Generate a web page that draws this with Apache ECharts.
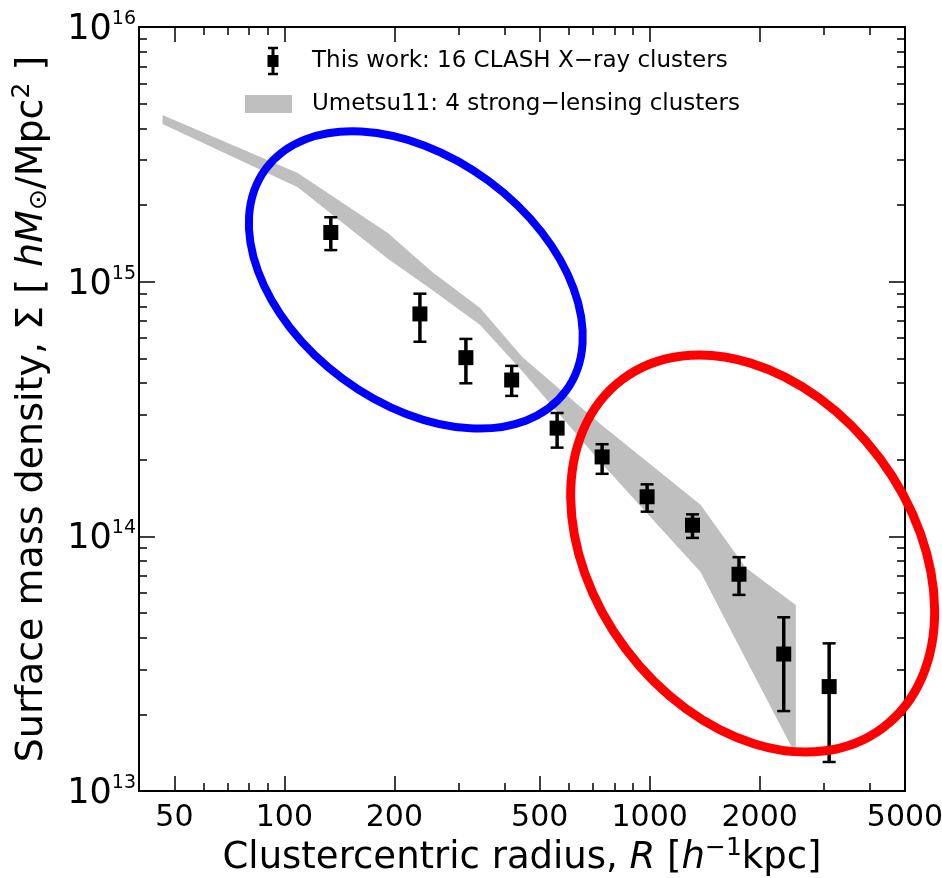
<!DOCTYPE html>
<html>
<head>
<meta charset="utf-8">
<script src="https://cdn.jsdelivr.net/npm/echarts@6/dist/echarts.min.js"></script>
<style>
  html, body { margin: 0; padding: 0; background: #ffffff; }
  #chart { width: 942px; height: 878px; }
</style>
</head>
<body>
<div id="chart"></div>
<script>
// Stacked surface mass density profile, radius in h^-1 kpc, Sigma in h M_sun / Mpc^2
const radius    = [134, 235, 314, 419, 558, 741, 984, 1310, 1756, 2328, 3100];
const sigma     = [1.56e15, 7.47e14, 5.03e14, 4.11e14, 2.66e14, 2.05e14, 1.43e14, 1.106e14, 7.10e13, 3.45e13, 2.57e13];
const sigmaLow  = [1.33e15, 5.81e14, 3.99e14, 3.56e14, 2.23e14, 1.76e14, 1.25e14, 9.86e13, 5.89e13, 2.06e13, 1.30e13];
const sigmaHigh = [1.79e15, 8.97e14, 5.96e14, 4.67e14, 3.05e14, 2.30e14, 1.60e14, 1.22e14, 8.28e13, 4.81e13, 3.80e13];

// Umetsu11 lensing envelope (upper and lower edges at common radii)
const bandRadius = [46.4, 108.8, 192, 254, 343.5, 448, 733, 1378, 1832, 2512];
const bandHigh   = [4.51e15, 2.67e15, 1.553e15, 1.091e15, 7.88e14, 5.06e14, 2.76e14, 1.33e14, 7.52e13, 5.38e13];
const bandLow    = [4.16e15, 2.35e15, 1.23e15, 9.28e14, 6.76e14, 4.45e14, 1.96e14, 7.25e13, 3.30e13, 1.386e13];

// Tick positions
const xMajorTicks = [50, 100, 200, 500, 1000, 2000, 5000];
const xMinorTicks = [60, 70, 80, 90, 300, 400, 600, 700, 800, 900, 3000, 4000];
const yMajorTicks = [1e13, 1e14, 1e15, 1e16];
const yMinorTicks = [2e13, 3e13, 4e13, 5e13, 6e13, 7e13, 8e13, 9e13,
                     2e14, 3e14, 4e14, 5e14, 6e14, 7e14, 8e14, 9e14,
                     2e15, 3e15, 4e15, 5e15, 6e15, 7e15, 8e15, 9e15];

const legendNames = ['This work: 16 CLASH X\u2212ray clusters', 'Umetsu11: 4 strong\u2212lensing clusters'];

const FONT = 'DejaVu Sans';
const X_MIN = 40, X_MAX = 5000, Y_MIN = 1e13, Y_MAX = 1e16;

function xAxisDef(position, ticks, tickLen, withLabels) {
  return {
    type: 'log', logBase: 10, min: X_MIN, max: X_MAX, position: position,
    axisLine: { show: true, onZero: false, lineStyle: { color: '#000', width: 2 } },
    axisTick: { show: true, inside: true, length: tickLen, customValues: ticks,
                lineStyle: { color: '#000', width: 1.5 } },
    axisLabel: withLabels ? {
      show: true, customValues: ticks, margin: 12, color: '#000',
      fontFamily: FONT, fontSize: 30,
      formatter: function (v) { return String(Math.round(v)); }
    } : { show: false },
    splitLine: { show: false }, minorTick: { show: false }, minorSplitLine: { show: false }
  };
}

function yAxisDef(position, ticks, tickLen, withLabels) {
  return {
    type: 'log', logBase: 10, min: Y_MIN, max: Y_MAX, position: position,
    axisLine: { show: true, onZero: false, lineStyle: { color: '#000', width: 2 } },
    axisTick: { show: true, inside: true, length: tickLen, customValues: ticks,
                lineStyle: { color: '#000', width: 1.5 } },
    axisLabel: withLabels ? {
      show: true, customValues: ticks, margin: 3, color: '#000',
      fontFamily: FONT,
      formatter: function (v) { return '{b|10}{s|' + Math.round(Math.log10(v)) + '}'; },
      rich: {
        b: { fontFamily: FONT, fontSize: 35, color: '#000', padding: [6, 0, 0, 0] },
        s: { fontFamily: FONT, fontSize: 19, color: '#000', padding: [0, 0, 16, 0] }
      }
    } : { show: false },
    splitLine: { show: false }, minorTick: { show: false }, minorSplitLine: { show: false }
  };
}

const xAxes = [
  xAxisDef('bottom', xMajorTicks, 15, true),
  xAxisDef('top', xMajorTicks, 15, false),
  xAxisDef('bottom', xMinorTicks, 8, false),
  xAxisDef('top', xMinorTicks, 8, false)
];
Object.assign(xAxes[0], {
  name: 'Clustercentric radius, {i|R} [{i|h}{sup|\u22121}kpc]',
  nameLocation: 'middle', nameGap: 45, nameMoveOverlap: false,
  nameTextStyle: {
    fontFamily: FONT, fontSize: 37, color: '#000',
    rich: {
      i: { fontFamily: FONT, fontSize: 37, fontStyle: 'italic', color: '#000' },
      sup: { fontFamily: FONT, fontSize: 25, color: '#000', padding: [0, 0, 20, 0] }
    }
  }
});

const yAxes = [
  yAxisDef('left', yMajorTicks, 16, true),
  yAxisDef('right', yMajorTicks, 16, false),
  yAxisDef('left', yMinorTicks, 8, false),
  yAxisDef('right', yMinorTicks, 8, false)
];
Object.assign(yAxes[0], {
  name: 'Surface mass density, \u03a3 [ {i|hM}{sub|\u2299}/Mpc{sup|2} ]',
  nameLocation: 'middle', nameGap: 84, nameRotate: 90, nameMoveOverlap: false,
  nameTextStyle: {
    fontFamily: FONT, fontSize: 38, color: '#000',
    rich: {
      i: { fontFamily: FONT, fontSize: 38, fontStyle: 'italic', color: '#000' },
      sub: { fontFamily: FONT, fontSize: 25, color: '#000', padding: [14, 0, 0, 0] },
      sup: { fontFamily: FONT, fontSize: 25, color: '#000', padding: [0, 0, 20, 0] }
    }
  }
});

const chart = echarts.init(document.getElementById('chart'), null, { renderer: 'canvas' });

chart.setOption({
  animation: false,
  backgroundColor: '#ffffff',
  grid: { left: 139, right: 37, top: 27, bottom: 87, containLabel: false, outerBoundsMode: 'none' },
  xAxis: xAxes,
  yAxis: yAxes,
  series: [
    {
      name: legendNames[1],
      type: 'custom',
      xAxisIndex: 0, yAxisIndex: 0,
      z: 1,
      data: bandRadius.map(function (r, i) { return [r, bandHigh[i], bandLow[i]]; }),
      encode: { x: 0, y: [1, 2] },
      renderItem: function (params, api) {
        if (params.dataIndex !== 0) return null;
        const pts = [];
        for (let i = 0; i < bandRadius.length; i++) pts.push(api.coord([bandRadius[i], bandHigh[i]]));
        for (let i = bandRadius.length - 1; i >= 0; i--) pts.push(api.coord([bandRadius[i], bandLow[i]]));
        return { type: 'polygon', shape: { points: pts }, style: { fill: '#bfbfbf', stroke: null } };
      }
    },
    {
      name: legendNames[0],
      type: 'custom',
      xAxisIndex: 0, yAxisIndex: 0,
      z: 3,
      data: radius.map(function (r, i) { return [r, sigma[i], sigmaLow[i], sigmaHigh[i]]; }),
      encode: { x: 0, y: [1, 2, 3] },
      renderItem: function (params, api) {
        const c = api.coord([api.value(0), api.value(1)]);
        const lo = api.coord([api.value(0), api.value(2)]);
        const hi = api.coord([api.value(0), api.value(3)]);
        const cap = 6.5, half = 7.5;
        return {
          type: 'group',
          children: [
            { type: 'line', shape: { x1: c[0], y1: hi[1], x2: c[0], y2: lo[1] }, style: { stroke: '#000', lineWidth: 3.5 } },
            { type: 'line', shape: { x1: c[0] - cap, y1: hi[1], x2: c[0] + cap, y2: hi[1] }, style: { stroke: '#000', lineWidth: 2.5 } },
            { type: 'line', shape: { x1: c[0] - cap, y1: lo[1], x2: c[0] + cap, y2: lo[1] }, style: { stroke: '#000', lineWidth: 2.5 } },
            { type: 'rect', shape: { x: c[0] - half, y: c[1] - half, width: 2 * half, height: 2 * half }, style: { fill: '#000' } }
          ]
        };
      }
    }
  ]
});

// Highlight ellipses, centred on data coordinates
const blueCenter = chart.convertToPixel({ xAxisIndex: 0, yAxisIndex: 0 }, [229, 1.016e15]);
const redCenter = chart.convertToPixel({ xAxisIndex: 0, yAxisIndex: 0 }, [1914, 8.56e13]);

chart.setOption({
  graphic: [
    // legend: error-bar handle
    { type: 'line', z: 50, shape: { x1: 273, y1: 48, x2: 273, y2: 74 }, style: { stroke: '#000', lineWidth: 3 } },
    { type: 'line', z: 50, shape: { x1: 268, y1: 48, x2: 278, y2: 48 }, style: { stroke: '#000', lineWidth: 2.5 } },
    { type: 'line', z: 50, shape: { x1: 268, y1: 74, x2: 278, y2: 74 }, style: { stroke: '#000', lineWidth: 2.5 } },
    { type: 'rect', z: 50, shape: { x: 267.5, y: 55, width: 11, height: 12 }, style: { fill: '#000' } },
    { type: 'text', z: 50, x: 312, y: 61,
      style: { text: legendNames[0], fontFamily: FONT, fontSize: 23, fill: '#000', verticalAlign: 'middle', textVerticalAlign: 'middle' } },
    // legend: band swatch
    { type: 'rect', z: 50, shape: { x: 245, y: 95, width: 47, height: 18 }, style: { fill: '#bfbfbf' } },
    { type: 'text', z: 50, x: 312, y: 104,
      style: { text: legendNames[1], fontFamily: FONT, fontSize: 23, fill: '#000', verticalAlign: 'middle', textVerticalAlign: 'middle' } },
    // ellipses
    { type: 'ellipse', z: 100, x: blueCenter[0], y: blueCenter[1], rotation: -36.5 * Math.PI / 180,
      shape: { cx: 0, cy: 0, rx: 186.7, ry: 122.9 }, style: { fill: 'none', stroke: '#0000ff', lineWidth: 8 } },
    { type: 'ellipse', z: 100, x: redCenter[0], y: redCenter[1], rotation: -53.25 * Math.PI / 180,
      shape: { cx: 0, cy: 0, rx: 217.5, ry: 158.8 }, style: { fill: 'none', stroke: '#ff0000', lineWidth: 9 } }
  ]
});
</script>
</body>
</html>
